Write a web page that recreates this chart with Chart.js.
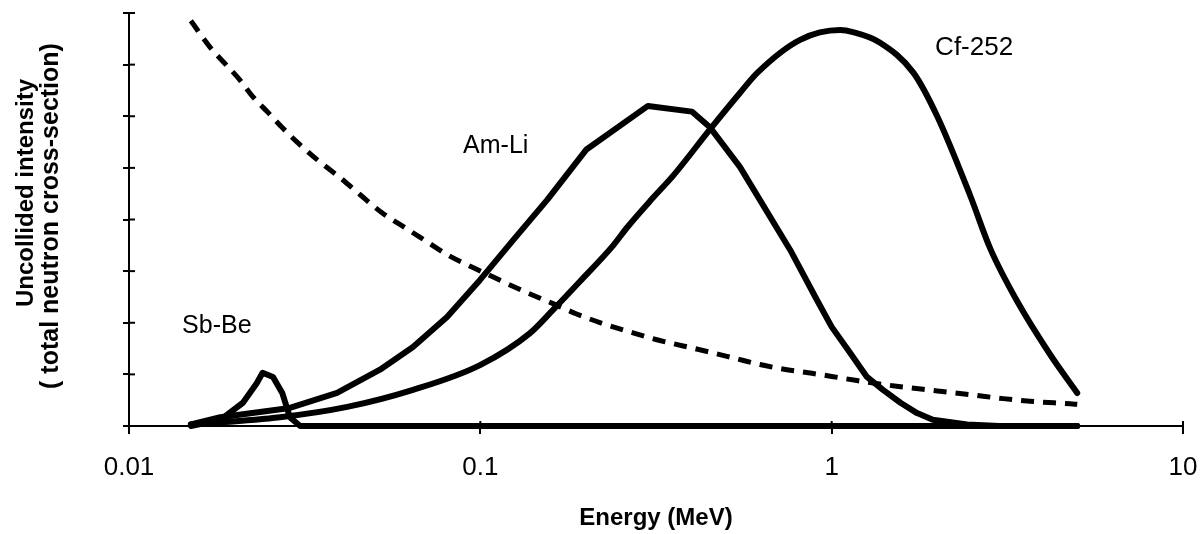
<!DOCTYPE html>
<html>
<head>
<meta charset="utf-8">
<script src="https://cdn.jsdelivr.net/npm/chart.js@4.4.1/dist/chart.umd.min.js"></script>
<style>
html,body{margin:0;padding:0;background:#fff;}
#wrap{width:1203px;height:534px;position:relative;background:#fff;}
</style>
</head>
<body>
<div id="wrap"><canvas id="c" width="1203" height="534"></canvas></div>
<script>
// ---- Data ----
const xTickValues = [0.01, 0.1, 1, 10];
const xTickLabels = ['0.01', '0.1', '1', '10'];
const yTickValues = [0, 1, 2, 3, 4, 5, 6, 7, 8];

const xTitle = 'Energy (MeV)';
const yTitleLines = ['Uncollided intensity', '( total neutron cross-section)'];

const sbbeEnergy    = [0.015, 0.0182, 0.0211, 0.0231, 0.0240, 0.0257, 0.0273, 0.0287, 0.0307, 5.0];
const sbbeIntensity = [0.0,   0.12,   0.45,   0.83,   1.03,   0.95,   0.64,   0.17,   0.0,    0.0];

const amliEnergy    = [0.015, 0.0182, 0.0287, 0.0391, 0.0518, 0.0643, 0.0804, 0.0998, 0.124, 0.155, 0.2, 0.3, 0.4, 0.451, 0.548, 0.762, 0.908, 1.0, 1.128, 1.26, 1.40, 1.57, 1.75, 1.94, 2.43, 3.0, 5.0];
const amliIntensity = [0.03,  0.17,   0.35,   0.64,   1.09,   1.53,   2.11,   2.83,   3.60,  4.38,  5.35, 6.20, 6.09, 5.78, 5.02, 3.41, 2.44, 1.92, 1.42, 0.95, 0.70, 0.45, 0.25, 0.12, 0.03, 0.0, 0.0];

const cfEnergy    = [0.015, 0.0269, 0.0418, 0.0643, 0.0998, 0.1385, 0.161, 0.192, 0.239, 0.262, 0.310, 0.354, 0.451, 0.548, 0.614, 0.813, 1.057, 1.15, 1.37, 1.71, 2.0, 2.48, 2.83, 3.37, 4.19, 5.0];
const cfIntensity = [0.03,  0.17,   0.37,   0.70,   1.18,   1.80,   2.25,  2.80,  3.50,  3.85,  4.42,  4.85,  5.75,  6.45,  6.84,  7.48,  7.67,  7.63, 7.43, 6.84, 5.99, 4.46, 3.43, 2.42, 1.38, 0.64];

const xsEnergy  = [0.015, 0.0170, 0.0190, 0.0207, 0.0225, 0.0249, 0.0273, 0.0301, 0.0343, 0.0399, 0.0455, 0.0525, 0.0611, 0.0705, 0.0809, 0.0946, 0.110, 0.132, 0.161, 0.188, 0.222, 0.267, 0.314, 0.378, 0.451, 0.531, 0.625, 0.746, 0.879, 1.0, 1.18, 1.53, 2.0, 2.53, 3.08, 3.67, 4.77, 5.0];
const xsValue   = [7.85,  7.34,   6.98,   6.70,   6.38,   6.07,   5.78,   5.50,   5.16,   4.81,   4.48,   4.13,   3.84,   3.57,   3.31,   3.08,   2.87,  2.62,  2.37,  2.17,  1.99,  1.82,  1.68,  1.55,  1.43,  1.31,  1.19,  1.09,  1.02,  0.96, 0.88, 0.77, 0.68, 0.60, 0.53, 0.48, 0.43, 0.42];

const curveLabels = ['Sb-Be', 'Am-Li', 'Cf-252'];

// ---- Presentation ----
const FONT = '"Liberation Sans", Arial, Helvetica, sans-serif';
const labelAnchors = [
  {energy: 0.01416, value: 1.94, size: 25},
  {energy: 0.0893,  value: 5.43, size: 25},
  {energy: 1.97,    value: 7.33, size: 26}
];

function pts(xs, ys) { return xs.map((x, i) => ({x: x, y: ys[i]})); }

const solid = {
  borderColor: '#000', borderWidth: 6, pointRadius: 0, tension: 0,
  borderCapStyle: 'round', borderJoinStyle: 'round', showLine: true, fill: false, clip: false
};

const annotationPlugin = {
  id: 'annot',
  afterDraw(chart) {
    const ctx = chart.ctx;
    const xs = chart.scales.x, ys = chart.scales.y;
    const ca = chart.chartArea;
    ctx.save();
    // inner halves of axis tick marks (the ticks cross the axis lines)
    ctx.strokeStyle = '#000';
    ctx.lineWidth = 2;
    xTickValues.forEach(v => {
      const px = xs.getPixelForValue(v);
      ctx.beginPath(); ctx.moveTo(px, ca.bottom); ctx.lineTo(px, ca.bottom - 5); ctx.stroke();
    });
    yTickValues.forEach(v => {
      const py = ys.getPixelForValue(v);
      ctx.beginPath(); ctx.moveTo(ca.left, py); ctx.lineTo(ca.left + 6, py); ctx.stroke();
    });
    // curve labels
    ctx.fillStyle = '#000';
    ctx.textAlign = 'left';
    ctx.textBaseline = 'middle';
    curveLabels.forEach((t, i) => {
      const a = labelAnchors[i];
      ctx.font = a.size + 'px ' + FONT;
      ctx.fillText(t, xs.getPixelForValue(a.energy), ys.getPixelForValue(a.value));
    });
    // y-axis title (two rotated lines)
    const yTitleStyle = [{x: 26, y: 193, size: 24}, {x: 51, y: 216, size: 25}];
    ctx.textAlign = 'center';
    yTitleLines.forEach((t, i) => {
      const s = yTitleStyle[i];
      ctx.save();
      ctx.font = 'bold ' + s.size + 'px ' + FONT;
      ctx.translate(s.x, s.y);
      ctx.rotate(-Math.PI / 2);
      ctx.fillText(t, 0, 0);
      ctx.restore();
    });
    ctx.restore();
  }
};

new Chart(document.getElementById('c'), {
  type: 'scatter',
  data: {
    datasets: [
      Object.assign({label: 'Cross-section', data: pts(xsEnergy, xsValue)}, solid,
        {borderWidth: 5, borderDash: [13, 9], borderCapStyle: 'butt', cubicInterpolationMode: 'monotone'}),
      Object.assign({label: 'Sb-Be', data: pts(sbbeEnergy, sbbeIntensity)}, solid),
      Object.assign({label: 'Am-Li', data: pts(amliEnergy, amliIntensity)}, solid),
      Object.assign({label: 'Cf-252', data: pts(cfEnergy, cfIntensity)}, solid,
        {cubicInterpolationMode: 'monotone'})
    ]
  },
  options: {
    responsive: false,
    animation: false,
    devicePixelRatio: 1,
    layout: {padding: {top: 13, right: 20, left: 0, bottom: 0}},
    plugins: {legend: {display: false}, tooltip: {enabled: false}},
    scales: {
      x: {
        type: 'logarithmic', min: 0.01, max: 10, position: 'bottom',
        afterBuildTicks: s => { s.ticks = xTickValues.map(v => ({value: v})); },
        afterFit: s => { s.height = 108; s.paddingLeft = 0; s.paddingRight = 0; },
        ticks: {
          autoSkip: false, maxRotation: 0, minRotation: 0, color: '#000', padding: 18,
          font: {family: FONT, size: 26},
          callback: (v, i) => xTickLabels[i]
        },
        grid: {drawOnChartArea: false, drawTicks: true, tickLength: 8, color: '#000', lineWidth: 2},
        border: {display: true, color: '#000', width: 2},
        title: {display: true, text: xTitle, color: '#000',
          font: {family: FONT, size: 24, weight: 'bold'}, padding: {top: 0, bottom: 1}}
      },
      y: {
        min: 0, max: 8,
        afterBuildTicks: s => { s.ticks = yTickValues.map(v => ({value: v})); },
        afterFit: s => { s.width = 129; },
        ticks: {display: false},
        grid: {drawOnChartArea: false, drawTicks: true, tickLength: 6, color: '#000', lineWidth: 2},
        border: {display: true, color: '#000', width: 2}
      }
    }
  },
  plugins: [annotationPlugin]
});
</script>
</body>
</html>
